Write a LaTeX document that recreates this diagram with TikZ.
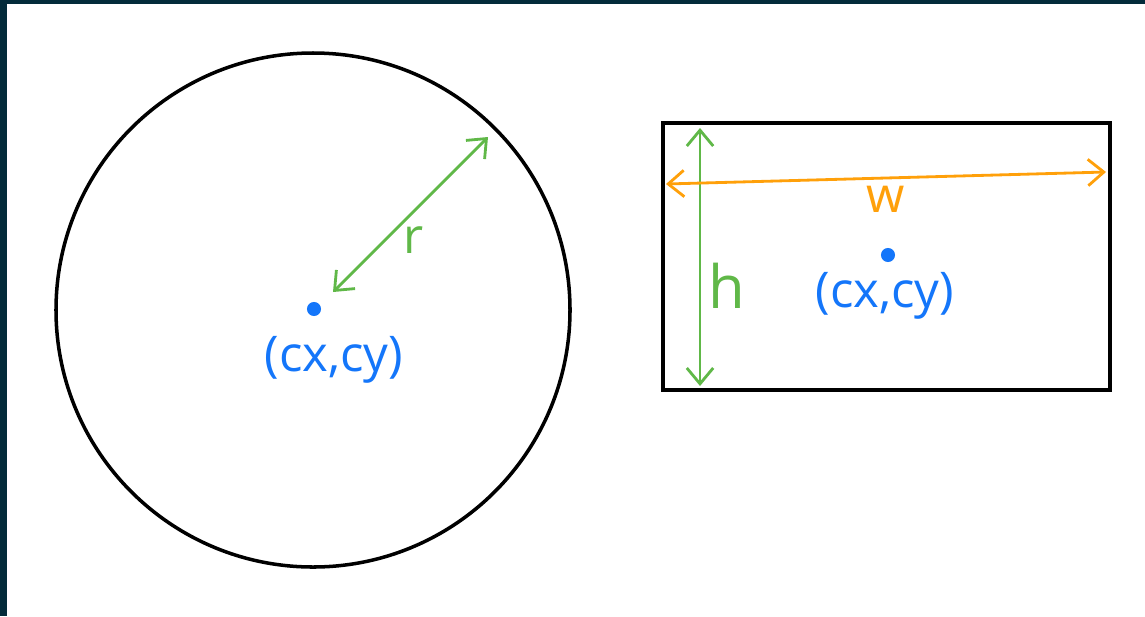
\documentclass[tikz,border=0pt]{standalone}
\usepackage{fontspec}
\setmainfont{Open Sans}
\usepackage{tikz}
\usetikzlibrary{arrows.meta, positioning, calc}
\definecolor{myframe}{RGB}{3,43,58}
\definecolor{mygreen}{RGB}{96,184,72}
\definecolor{myblue}{RGB}{20,118,250}
\definecolor{myorange}{RGB}{255,160,10}
\tikzset{
  outline/.style={draw=black, line width=2pt},
  greenarrow/.style={{Straight Barb[length=9pt,width=15pt]}-{Straight Barb[length=9pt,width=15pt]}, line width=1.6pt, color=mygreen},
  orangearrow/.style={{Straight Barb[length=9pt,width=15pt]}-{Straight Barb[length=9pt,width=15pt]}, line width=1.6pt, color=myorange},
  centre/.style={circle, fill=myblue, inner sep=0pt, minimum size=8pt},
  lbl/.style={font=\fontsize{28}{32}\selectfont, inner sep=1pt}
}
\begin{document}
\begin{tikzpicture}[x=0.02cm, y=-0.02cm]
  \fill[myframe] (0,0) rectangle (1145,616);
  \fill[white] (7,4) rectangle (1145,616);
  \useasboundingbox (0,0) rectangle (1145,616);

  % circle
  \coordinate (c) at (313,310);
  \draw[outline] (c) circle[radius=257*0.02cm];
  \node (cdot) [centre] at (314,309) {};
  \node (clabel) [lbl, text=myblue] at (334,360) {(cx,cy)};
  \coordinate (rin) at (333,292);
  \coordinate (rout) at (488,137);
  \draw [greenarrow] (rin) -- (rout);
  \node (rlabel) [lbl, text=mygreen] at (414,240) {r};

  % rectangle
  \draw[outline] (663,123) rectangle (1110,390);
  \node (rdot) [centre] at (888,255) {};
  \node (rectlabel) [lbl, text=myblue] at (885,296) {(cx,cy)};
  \coordinate (htop) at (700,128);
  \coordinate (hbot) at (700,386);
  \draw [greenarrow] (htop) -- (hbot);
  \node (hlabel) [lbl, text=mygreen, font=\fontsize{34}{38}\selectfont] at (727,286) {h};
  \coordinate (wleft) at (666,184);
  \coordinate (wright) at (1106,172);
  \draw [orangearrow] (wleft) -- (wright);
  \node (wlabel) [lbl, text=myorange] at (886,199) {w};
\end{tikzpicture}
\end{document}
